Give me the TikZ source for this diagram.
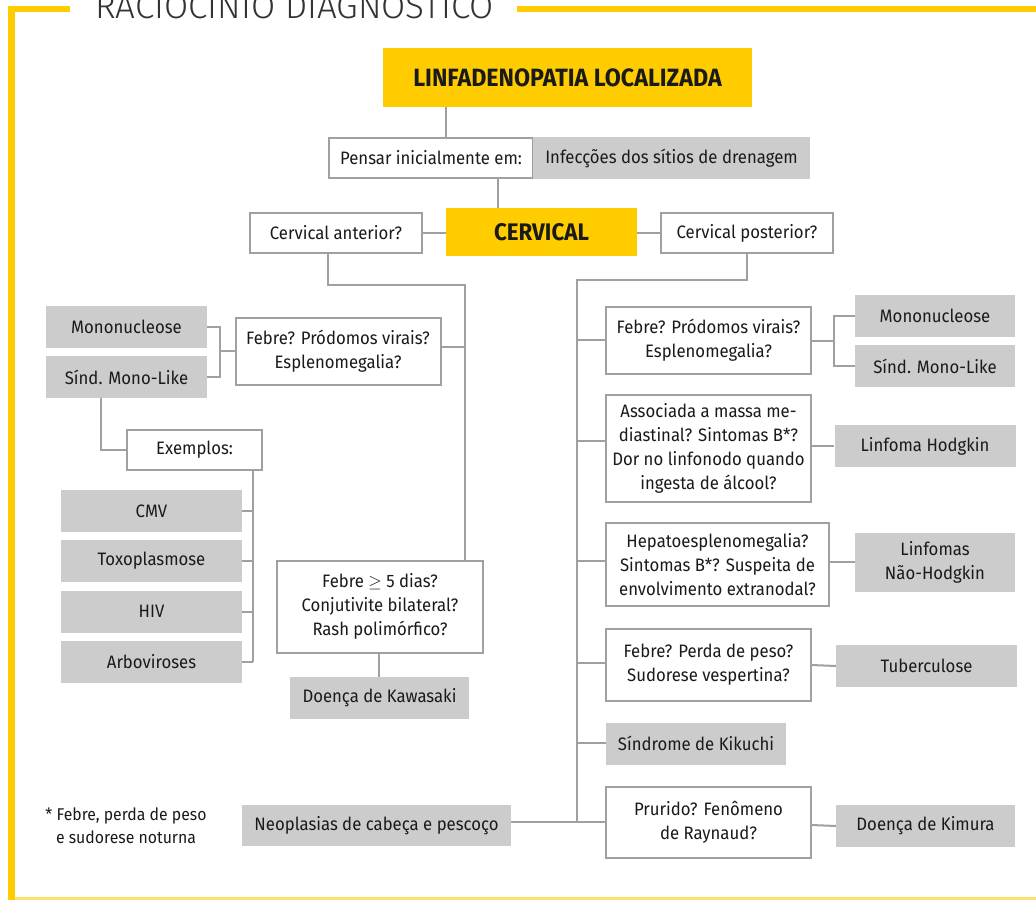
\documentclass[tikz,border=0pt]{standalone}
\usepackage{fontspec}
\setmainfont{Fira Sans}[FakeStretch=0.93]
\newfontfamily\titlefont{Fira Sans Light}
\definecolor{yel}{HTML}{FFCC00}
\definecolor{yellight}{HTML}{FFE070}
\definecolor{bgray}{HTML}{CCCCCC}
\definecolor{lgray}{HTML}{A0A0A0}
\definecolor{txt}{HTML}{1A1A1A}
\definecolor{titlegray}{HTML}{333333}
\begin{document}
\begin{tikzpicture}[x=1pt,y=-1pt,
  base/.style={inner sep=0pt, align=center, text=txt, font=\fontsize{18}{24}\selectfont},
  wbox/.style={base, draw=lgray, line width=2pt, fill=white},
  gbox/.style={base, fill=bgray},
  ybox/.style={base, fill=yel, font=\fontsize{24}{28}\selectfont\bfseries},
  sz/.style 2 args={minimum width=#1pt, minimum height=#2pt},
  conn/.style={draw=lgray, line width=2pt}]
\useasboundingbox (0,0) rectangle (1036,900);
% frame
\fill[yel] (8,6) rectangle (70,12);
\fill[yel] (517,6) rectangle (1036,12);
\fill[yel] (8,6) rectangle (15,900);
\fill[yellight] (15,897) rectangle (1036,900);
\node[anchor=base west, inner sep=0pt, text=titlegray, font=\titlefont\fontsize{35}{35}\selectfont] (title) at (95,18) {RACIOCINIO DIAGNOSTICO};
% top
\node[ybox, sz={369}{59}, font=\fontsize{25}{28}\selectfont\bfseries] (lin) at (567.5,77.5) {LINFADENOPATIA LOCALIZADA};
\node[wbox, sz={204}{40}] (pensar) at (431,158) {Pensar inicialmente em:};
\node[gbox, sz={277}{42}] (infec) at (671.5,158) {Infecções dos sítios de drenagem};
\node[ybox, sz={191}{48}] (cerv) at (541.5,232) {CERVICAL};
\node[wbox, sz={172}{40}] (cant) at (336,233) {Cervical anterior?};
\node[wbox, sz={172}{40}] (cpost) at (747,233) {Cervical posterior?};
% left
\node[wbox, sz={205}{67}] (lfebre) at (338,351.5) {Febre? Pródomos virais?\\Esplenomegalia?};
\node[gbox, sz={161}{42}] (lmono) at (126.5,327) {Mononucleose};
\node[gbox, sz={161}{42}] (lsind) at (126.5,377) {Sínd. Mono-Like};
\node[wbox, sz={135}{40}] (exem) at (194.5,449.5) {Exemplos:};
\node[gbox, sz={181}{42}] (cmv) at (151.5,511) {CMV};
\node[gbox, sz={181}{42}] (toxo) at (151.5,561) {Toxoplasmose};
\node[gbox, sz={181}{42}] (hiv) at (151.5,611.5) {HIV};
\node[gbox, sz={181}{42}] (arbo) at (151.5,662) {Arboviroses};
\node[wbox, sz={206}{92}] (kfebre) at (380,606.5) {Febre $\geq$ 5 dias?\\Conjutivite bilateral?\\Rash polimórfico?};
\node[gbox, sz={179}{42}] (kawa) at (379.5,698) {Doença de Kawasaki};
% right
\node[wbox, sz={205}{67}] (rfebre) at (708.5,340.5) {Febre? Pródomos virais?\\Esplenomegalia?};
\node[gbox, sz={160}{42}] (rmono) at (935,316) {Mononucleose};
\node[gbox, sz={160}{42}] (rsind) at (935,366) {Sínd. Mono-Like};
\node[wbox, sz={205}{107}] (assoc) at (708.5,448.5) {Associada a massa me-\\diastinal? Sintomas B*?\\Dor no linfonodo quando\\ingesta de álcool?};
\node[gbox, sz={181}{42}] (hodg) at (925,446) {Linfoma Hodgkin};
\node[wbox, sz={223}{83}] (hepato) at (717.5,564.5) {Hepatoesplenomegalia?\\Sintomas B*? Suspeita de\\envolvimento extranodal?};
\node[gbox, sz={160}{59}] (nhodg) at (935,562) {Linfomas\\Não-Hodgkin};
\node[wbox, sz={205}{72}] (tfebre) at (708.5,665) {Febre? Perda de peso?\\Sudorese vespertina?};
\node[gbox, sz={181}{42}] (tuber) at (926.5,666) {Tuberculose};
\node[gbox, sz={180}{42}] (kiku) at (696,743.5) {Síndrome de Kikuchi};
\node[wbox, sz={205}{71}] (prur) at (708.5,822) {Prurido? Fenômeno\\de Raynaud?};
\node[gbox, sz={179}{42}] (kimu) at (925.5,826) {Doença de Kimura};
\node[gbox, sz={269}{41}] (neo) at (376.5,825.5) {Neoplasias de cabeça e pescoço};
\node[base, font=\fontsize{17}{23}\selectfont] (foot) at (126,826) {* Febre, perda de peso\\e sudorese noturna};
% connectors
\draw[conn] (446,0 |- lin.south) -- (446,0 |- pensar.north);
\draw[conn] (498,0 |- pensar.south) -- (498,0 |- cerv.north);
\draw[conn] (cant.east) -- (cant.east -| cerv.west);
\draw[conn] (cerv.east |- cpost.west) -- (cpost.west);
\coordinate (ja) at (465,285);
\draw[conn] (328,0 |- cant.south) |- (ja) -- (ja |- kfebre.north);
\draw[conn] (lfebre.east |- 0,347) -- (ja |- 0,347);
\coordinate (jb) at (220,351);
\draw[conn] (lmono.east) -| (jb) |- (lsind.east);
\draw[conn] (jb) -- (jb -| lfebre.west);
\draw[conn] (101,0 |- lsind.south) |- (exem.west);
\draw[conn] (253,0 |- exem.south) -- (253,0 |- arbo.east);
\foreach \n in {cmv,toxo,hiv,arbo} \draw[conn] (\n.east) -- (253,0 |- \n.east);
\draw[conn] (379,0 |- kfebre.south) -- (379,0 |- kawa.north);
\coordinate (jr) at (577,280);
\draw[conn] (747,0 |- cpost.south) |- (jr) -- (577,823);
\foreach \n/\y in {rfebre/340, assoc/441, hepato/561, tfebre/663, kiku/743}
  \draw[conn] (577,\y) -- (\n.west |- 0,\y);
\draw[conn] (neo.east |- 0,822) -- (prur.west |- 0,822);
\coordinate (jc) at (834,340.5);
\draw[conn] (rfebre.east |- jc) -- (jc);
\draw[conn] (rmono.west) -| (jc) |- (rsind.west);
\draw[conn] (assoc.east |- 0,446) -- (hodg.west);
\draw[conn] (hepato.east |- 0,562) -- (nhodg.west);
\draw[conn] (tfebre.east |- 0,665) -- (tuber.west);
\draw[conn] (prur.east |- 0,825) -- (kimu.west);
\end{tikzpicture}
\end{document}
